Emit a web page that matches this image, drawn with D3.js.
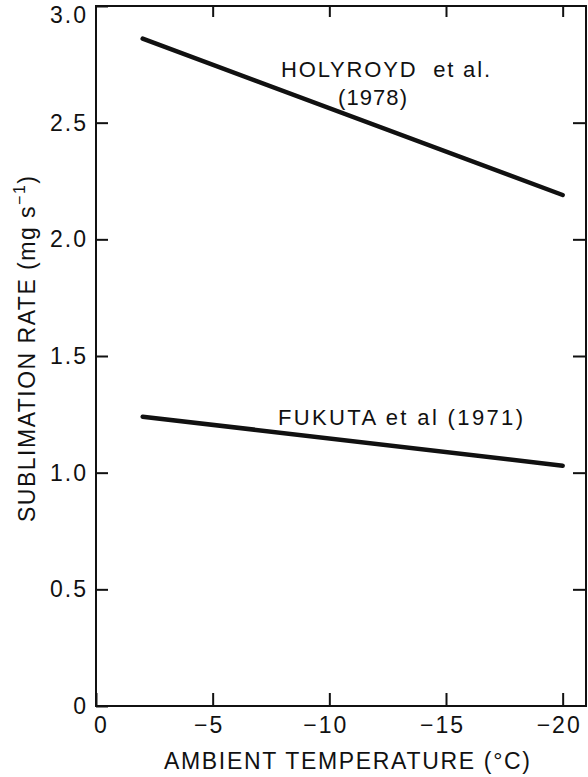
<!DOCTYPE html>
<html>
<head>
<meta charset="utf-8">
<script src="https://cdn.jsdelivr.net/npm/d3@7"></script>
<style>
  html, body { margin: 0; padding: 0; background: #fff; }
  svg { display: block; }
  text { font-family: "Liberation Sans", Arial, sans-serif; fill: #111; }
</style>
</head>
<body>
<svg id="chart" width="588" height="777"></svg>
<script>
// Sublimation rate versus ambient temperature, two published relations
const temps = [-2, -20];                 // ambient temperature (°C)
const holyroyd = [2.86, 2.19];           // Holyroyd et al. (1978), mg s^-1
const fukuta = [1.24, 1.03];             // Fukuta et al. (1971), mg s^-1

const xTicks = [0, -5, -10, -15, -20];
const xTickLabels = ["0", "\u22125", "\u221210", "\u221215", "\u221220"];
const yTicks = [0, 0.5, 1.0, 1.5, 2.0, 2.5, 3.0];
const yTickLabels = ["0", "0.5", "1.0", "1.5", "2.0", "2.5", "3.0"];

const svg = d3.select("#chart");
const frame = { left: 96, right: 586, top: 6, bottom: 706 };

const x = d3.scaleLinear().domain([0, -21]).range([frame.left, frame.right]);
const y = d3.scaleLinear().domain([0, 3]).range([frame.bottom, frame.top]);

const ink = "#111";

// Frame
svg.append("rect")
  .attr("x", frame.left).attr("y", frame.top)
  .attr("width", frame.right - frame.left).attr("height", frame.bottom - frame.top)
  .attr("fill", "none").attr("stroke", ink).attr("stroke-width", 2);

function styleAxis(g) {
  g.select(".domain").remove();
  g.selectAll(".tick line").attr("stroke", ink).attr("stroke-width", 2);
  g.selectAll(".tick text")
    .attr("fill", ink)
    .style("font-size", "23px")
    .style("letter-spacing", "2px")
    .style("font-family", "'Liberation Sans', Arial, sans-serif");
}

// Bottom axis with labels, ticks pointing inward
svg.append("g")
  .attr("transform", `translate(0,${frame.bottom})`)
  .call(d3.axisBottom(x).tickValues(xTicks)
    .tickFormat((d, i) => xTickLabels[i])
    .tickSizeInner(-13).tickSizeOuter(0).tickPadding(11))
  .call(styleAxis)
  .call(g => g.selectAll(".tick text").attr("dx", d => d === 0 ? 5 : -4));

// Top axis: ticks only
svg.append("g")
  .attr("transform", `translate(0,${frame.top})`)
  .call(d3.axisTop(x).tickValues(xTicks.slice(1))
    .tickFormat("").tickSizeInner(-11).tickSizeOuter(0))
  .call(styleAxis);

// Left axis with labels
svg.append("g")
  .attr("transform", `translate(${frame.left},0)`)
  .call(d3.axisLeft(y).tickValues(yTicks)
    .tickFormat((d, i) => yTickLabels[i])
    .tickSizeInner(-12).tickSizeOuter(0).tickPadding(8))
  .call(styleAxis)
  .call(g => g.selectAll(".tick text")
    .attr("y", d => Math.max(0, (frame.top + 9) - y(d))));

// Right axis: ticks only
svg.append("g")
  .attr("transform", `translate(${frame.right},0)`)
  .call(d3.axisRight(y).tickValues(yTicks.slice(1, -1))
    .tickFormat("").tickSizeInner(-13).tickSizeOuter(0))
  .call(styleAxis);

// Relation lines
const line = d3.line().x(d => x(d[0])).y(d => y(d[1]));
[holyroyd, fukuta].forEach(series => {
  svg.append("path")
    .datum(temps.map((t, i) => [t, series[i]]))
    .attr("d", line)
    .attr("fill", "none")
    .attr("stroke", ink)
    .attr("stroke-width", 4.5)
    .attr("stroke-linecap", "round");
});

// Line annotations
svg.append("text")
  .attr("x", 281).attr("y", 77)
  .attr("textLength", 209).attr("lengthAdjust", "spacing")
  .style("font-size", "22px").style("white-space", "pre")
  .text("HOLYROYD  et al.");
svg.append("text")
  .attr("x", 338).attr("y", 105)
  .attr("textLength", 69).attr("lengthAdjust", "spacing")
  .style("font-size", "22px")
  .text("(1978)");
svg.append("text")
  .attr("x", 278).attr("y", 425)
  .attr("textLength", 245).attr("lengthAdjust", "spacing")
  .style("font-size", "22px")
  .text("FUKUTA et al (1971)");

// Axis titles
svg.append("text")
  .attr("x", 164).attr("y", 769)
  .attr("textLength", 366).attr("lengthAdjust", "spacing")
  .style("font-size", "23px")
  .text("AMBIENT TEMPERATURE (\u00B0C)");

const yTitle = svg.append("text")
  .attr("transform", "translate(35,522) rotate(-90)")
  .style("font-size", "23px")
  .style("letter-spacing", "1.5px");
yTitle.append("tspan").text("SUBLIMATION RATE (mg s");
yTitle.append("tspan").attr("dy", -10).style("font-size", "16px").text("\u22121");
yTitle.append("tspan").attr("dy", 10).text(")");
</script>
</body>
</html>
